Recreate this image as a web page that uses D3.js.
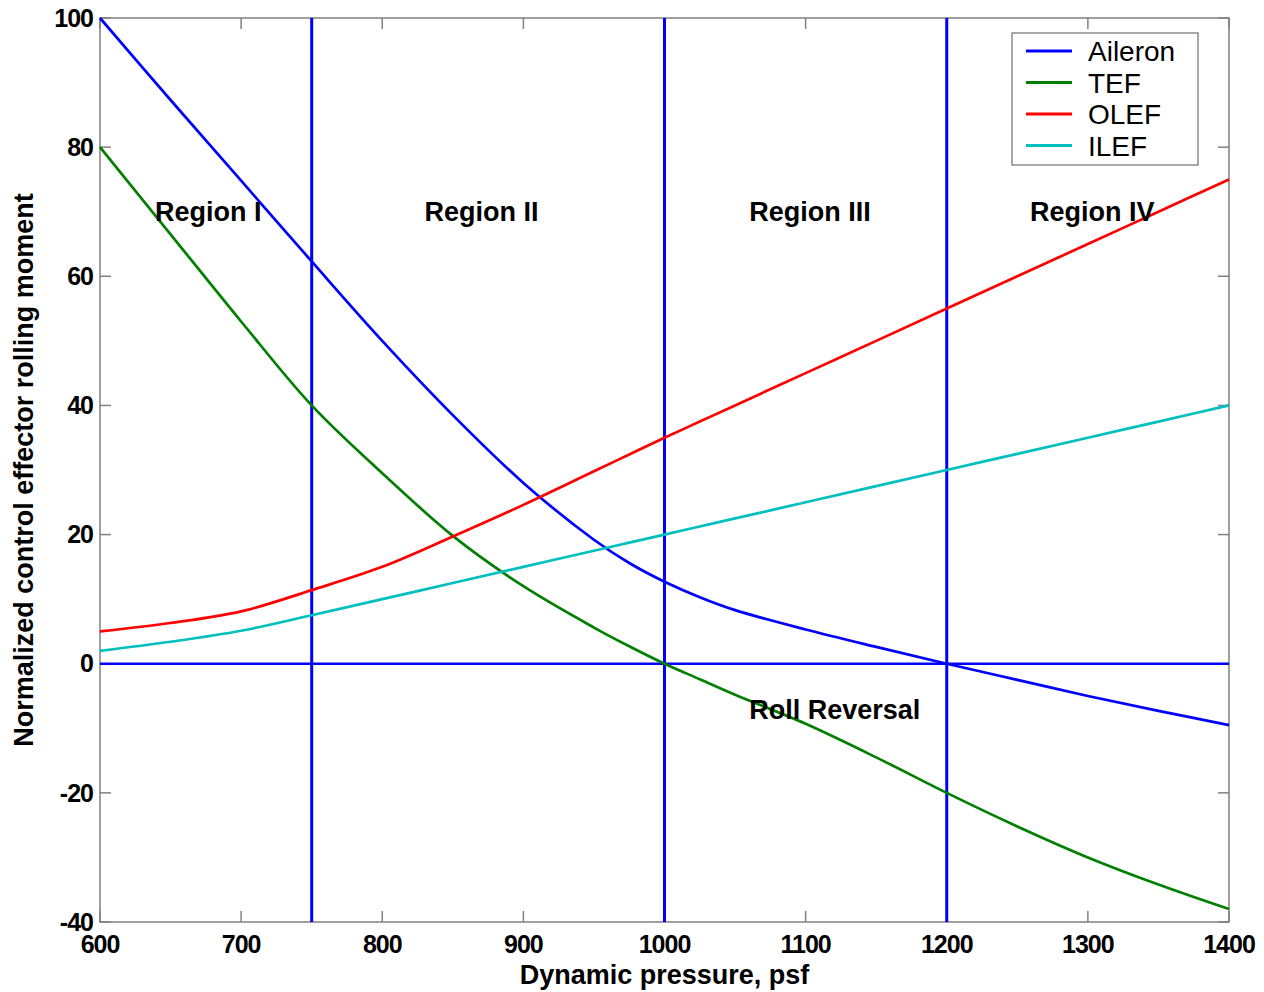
<!DOCTYPE html>
<html>
<head>
<meta charset="utf-8">
<script src="https://cdn.jsdelivr.net/npm/d3@7"></script>
<style>
body { margin: 0; background: #fff; }
text { font-family: "Liberation Sans", Arial, sans-serif; fill: #000; }
.tick-label { font-size: 25px; font-weight: bold; }
.region { font-size: 27px; font-weight: bold; }
.axis-title { font-size: 27px; font-weight: bold; }
.legend-label { font-size: 28px; }
</style>
</head>
<body>
<div id="main"></div>
<script>
var width = 1264;
var height = 992;
var margin = {t: 18, r: 35, b: 70, l: 100};

var plotWidth = width - margin.l - margin.r;
var plotHeight = height - margin.t - margin.b;

// dynamic pressure, psf
var pressure = [600, 650, 700, 750, 800, 850, 900, 950, 975, 1000, 1025, 1050, 1100, 1150, 1200, 1250, 1300, 1350, 1400];

var aileron = [100, 87.3, 74.8, 62.3, 50, 38.5, 28, 19.2, 15.6, 12.7, 10.3, 8.3, 5.3, 2.6, 0, -2.5, -5, -7.3, -9.5];
var tef     = [80, 66.5, 53, 40, 29.5, 19.8, 12, 5.6, 2.7, 0, -2.4, -4.8, -9.3, -14.5, -20, -25.2, -30, -34.2, -38];
var olef    = [5, 6.3, 8.1, 11.4, 15, 19.7, 24.6, 29.8, 32.4, 35, 37.5, 40, 45, 50, 55, 60, 65, 70, 75];
var ilef    = [2, 3.4, 5.1, 7.5, 10, 12.5, 15, 17.5, 18.75, 20, 21.25, 22.5, 25, 27.5, 30, 32.5, 35, 37.5, 40];

var seriesNames = ['Aileron', 'TEF', 'OLEF', 'ILEF'];
var seriesValues = [aileron, tef, olef, ilef];
var seriesColors = ['#0000ff', '#007f00', '#ff0000', '#00bfbf'];

var regionBounds = [750, 1000, 1200];
var regionLabels = [
    {text: 'Region I', x: 639, y: 68.5},
    {text: 'Region II', x: 830, y: 68.5},
    {text: 'Region III', x: 1060, y: 68.5},
    {text: 'Region IV', x: 1259, y: 68.5},
    {text: 'Roll Reversal', x: 1060, y: -8.5}
];

var xTicks = [600, 700, 800, 900, 1000, 1100, 1200, 1300, 1400];
var yTicks = [-40, -20, 0, 20, 40, 60, 80, 100];

var svg = d3.select('#main').append('svg')
    .attr('width', width)
    .attr('height', height);

var chart = svg.append('g')
    .attr('transform', `translate(${margin.l}, ${margin.t})`);

var xScale = d3.scaleLinear().domain([600, 1400]).range([0, plotWidth]);
var yScale = d3.scaleLinear().domain([-40, 100]).range([plotHeight, 0]);

var axisColor = '#808080';

// box
chart.append('rect')
    .attr('width', plotWidth)
    .attr('height', plotHeight)
    .attr('fill', 'none')
    .attr('stroke', axisColor)
    .attr('stroke-width', 1.5);

// inner ticks on all four sides
var tickLen = 11;
xTicks.forEach(function(t) {
    chart.append('line').attr('x1', xScale(t)).attr('x2', xScale(t))
        .attr('y1', plotHeight).attr('y2', plotHeight - tickLen)
        .attr('stroke', axisColor).attr('stroke-width', 1.5);
    chart.append('line').attr('x1', xScale(t)).attr('x2', xScale(t))
        .attr('y1', 0).attr('y2', tickLen)
        .attr('stroke', axisColor).attr('stroke-width', 1.5);
});
yTicks.forEach(function(t) {
    chart.append('line').attr('x1', 0).attr('x2', tickLen)
        .attr('y1', yScale(t)).attr('y2', yScale(t))
        .attr('stroke', axisColor).attr('stroke-width', 1.5);
    chart.append('line').attr('x1', plotWidth).attr('x2', plotWidth - tickLen)
        .attr('y1', yScale(t)).attr('y2', yScale(t))
        .attr('stroke', axisColor).attr('stroke-width', 1.5);
});

chart.selectAll('.x-label')
    .data(xTicks)
    .enter()
    .append('text')
    .attr('class', 'tick-label')
    .attr('x', function(d) { return xScale(d); })
    .attr('y', plotHeight + 31)
    .attr('text-anchor', 'middle')
    .style('letter-spacing', '-1px')
    .text(function(d) { return d; });

chart.selectAll('.y-label')
    .data(yTicks)
    .enter()
    .append('text')
    .attr('class', 'tick-label')
    .attr('x', -7)
    .attr('y', function(d) { return yScale(d); })
    .attr('dy', '0.35em')
    .attr('text-anchor', 'end')
    .style('letter-spacing', '-1px')
    .text(function(d) { return d; });

// region boundaries and zero line
regionBounds.forEach(function(b) {
    chart.append('line')
        .attr('x1', xScale(b)).attr('x2', xScale(b))
        .attr('y1', 0).attr('y2', plotHeight)
        .attr('stroke', '#0000ff').attr('stroke-width', 3);
});
chart.append('line')
    .attr('x1', 0).attr('x2', plotWidth)
    .attr('y1', yScale(0)).attr('y2', yScale(0))
    .attr('stroke', '#0000ff').attr('stroke-width', 2.5);

// curves
var line = d3.line()
    .x(function(d) { return xScale(d[0]); })
    .y(function(d) { return yScale(d[1]); })
    .curve(d3.curveCatmullRom.alpha(0.5));

seriesValues.forEach(function(vals, i) {
    chart.append('path')
        .datum(d3.zip(pressure, vals))
        .attr('d', line)
        .attr('fill', 'none')
        .attr('stroke', seriesColors[i])
        .attr('stroke-width', 2.7);
});

chart.selectAll('.region')
    .data(regionLabels)
    .enter()
    .append('text')
    .attr('class', 'region')
    .attr('x', function(d) { return xScale(d.x); })
    .attr('y', function(d) { return yScale(d.y); })
    .text(function(d) { return d.text; });

// legend
var legend = svg.append('g').attr('transform', 'translate(1012, 33)');
legend.append('rect')
    .attr('width', 186)
    .attr('height', 132)
    .attr('fill', '#fff')
    .attr('stroke', '#555')
    .attr('stroke-width', 1);
seriesNames.forEach(function(name, i) {
    var yy = 18 + i * 31.5;
    legend.append('line')
        .attr('x1', 14).attr('x2', 60)
        .attr('y1', yy).attr('y2', yy)
        .attr('stroke', seriesColors[i]).attr('stroke-width', 3);
    legend.append('text')
        .attr('class', 'legend-label')
        .attr('x', 76)
        .attr('y', yy + 10)
        .text(name);
});

// axis titles
svg.append('text')
    .attr('class', 'axis-title')
    .attr('x', margin.l + plotWidth / 2)
    .attr('y', 984)
    .attr('text-anchor', 'middle')
    .text('Dynamic pressure, psf');

svg.append('text')
    .attr('class', 'axis-title')
    .attr('transform', `translate(33, ${margin.t + plotHeight / 2}) rotate(-90)`)
    .attr('text-anchor', 'middle')
    .text('Normalized control effector rolling moment');
</script>
</body>
</html>
